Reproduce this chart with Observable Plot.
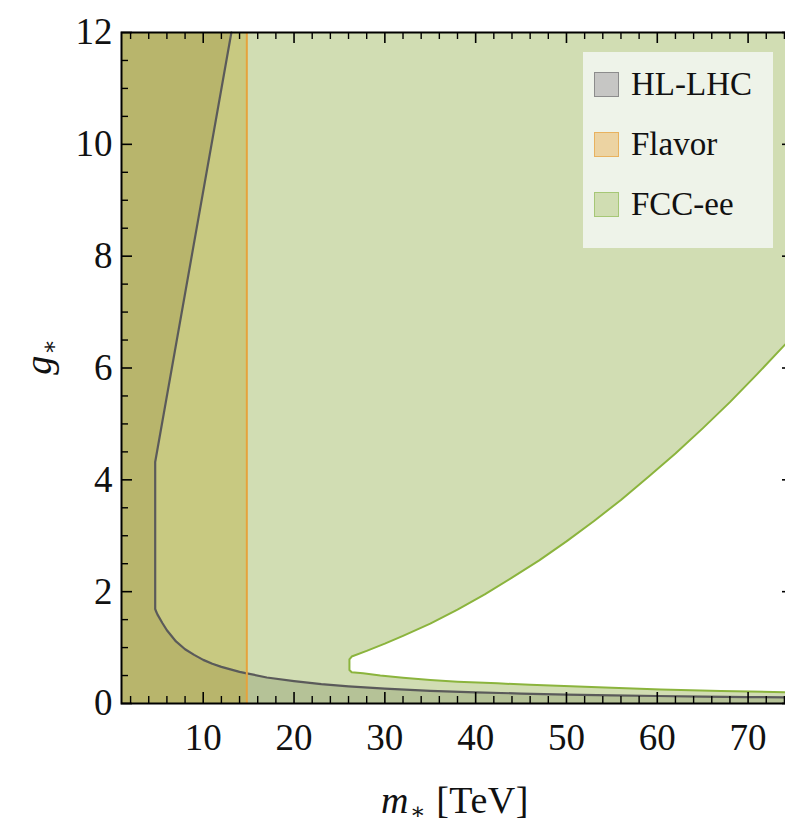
<!DOCTYPE html>
<html><head><meta charset="utf-8">
<script src="https://cdn.jsdelivr.net/npm/d3@7"></script>
<script src="https://cdn.jsdelivr.net/npm/@observablehq/plot@0.6"></script>
<style>
html,body{margin:0;padding:0;background:#fff;overflow:hidden;}
#wrap{position:relative;width:785px;height:828px;overflow:hidden;font-family:"Liberation Serif","DejaVu Serif",serif;color:#111;}
#chart{position:absolute;left:0;top:0;width:793px;}
#chart svg{max-width:none !important;}
#xlab{position:absolute;left:455px;top:781px;transform:translateX(-50%);font-size:38px;line-height:1;white-space:nowrap;letter-spacing:0.5px;}
#ylab{position:absolute;left:38px;top:357px;transform:translate(-50%,-50%) rotate(-90deg);font-size:38px;line-height:1;white-space:nowrap;}
.sub{font-size:23px;position:relative;top:6px;margin-left:1px;}
#legend{position:absolute;left:583px;top:52px;width:190px;height:196px;background:#eef3e9;}
.item{position:absolute;left:11px;height:25px;display:flex;align-items:center;font-size:33px;white-space:nowrap;}
.sw{width:23px;height:23px;border:1px solid;margin-right:12px;flex:none;}
</style></head><body>
<div id="wrap">
  <div id="chart"></div>
  <div id="ylab"><i>g</i><span class="sub">∗</span></div>
  <div id="xlab"><i>m</i><span class="sub">∗</span> [TeV]</div>
  <div id="legend"></div>
</div>
<script>
// ---- data ----
const xDomain = [1, 75];
const yDomain = [0, 12];
const xTickLabels = [10, 20, 30, 40, 50, 60, 70];
const yTickLabels = [0, 2, 4, 6, 8, 10, 12];
const xMinorTicks = d3.range(2, 75, 2).filter(v => v % 10 !== 0);
const yMinorTicks = d3.range(0.5, 12, 0.5).filter(v => v % 2 !== 0);

// flavor bound on m* (TeV)
const flavorBound = 14.8;

// HL-LHC exclusion boundary [m*, g*]
const hlBoundary = [
  [13.1, 12], [4.71, 4.32], [4.71, 1.69], [4.85, 1.63], [5, 1.58], [5.5, 1.44], [6, 1.31],
  [7, 1.11], [8, 0.97], [9, 0.87], [10, 0.78], [11, 0.71], [12, 0.655], [13, 0.61],
  [14, 0.565], [14.8, 0.54], [17, 0.465], [20, 0.4], [23, 0.345], [26, 0.305],
  [30, 0.265], [35, 0.227], [40, 0.2], [45, 0.178], [50, 0.16], [55, 0.146],
  [60, 0.134], [65, 0.124], [70, 0.115], [75, 0.108]
];

// FCC-ee allowed wedge: upper and lower boundaries [m*, g*]
const fccUpper = [
  [26.35, 0.84], [28, 0.94], [30, 1.07], [32, 1.21], [35, 1.43], [38, 1.68],
  [41, 1.95], [44, 2.25], [47, 2.56], [50, 2.9], [53, 3.26], [56, 3.64],
  [59, 4.05], [62, 4.47], [65, 4.92], [68, 5.39], [71, 5.89], [75, 6.58]
];
const fccLower = [
  [26.35, 0.56], [27.6, 0.54], [29.5, 0.5], [32, 0.46], [35, 0.42], [38, 0.39],
  [42.4, 0.36], [46, 0.335], [50.5, 0.31], [55, 0.28], [60.4, 0.25], [67, 0.222],
  [75, 0.2]
];
const fccTipM = 26.1;

// series / legend
const seriesNames = ["HL-LHC", "Flavor", "FCC-ee"];
const seriesSwatch = ["#c6c6c4", "#ecd3a2", "#d0ddb2"];
const seriesSwatchBorder = ["#8c8c8c", "#e8b25f", "#a6c776"];

// region colours (as composited in the reference)
const fccFill = "#d1ddb3";
const flavorFccFill = "#c8c981";
const hlFccFill = "#b5c297";
const hlFlavorFccFill = "#b8b56c";
const hlLine = "#5a5a5a";
const fccLine = "#8bb43d";
const flavorLine = "#e6a23c";

// ---- derived polygons ----
const wedge = [[fccTipM, 0.79], ...fccUpper, ...fccLower.slice().reverse(), [fccTipM, 0.6], [fccTipM, 0.79]];
const hlLeft = [[xDomain[0], 0], [xDomain[0], yDomain[1]], ...hlBoundary.filter(p => p[0] <= flavorBound), [flavorBound, 0]];
const hlRight = [[flavorBound, 0], ...hlBoundary.filter(p => p[0] >= flavorBound), [xDomain[1], 0]];
const flavorRegion = [{m1: xDomain[0], m2: flavorBound, g1: yDomain[0], g2: yDomain[1]}];

const px = d => d[0], py = d => d[1];

const chart = Plot.plot({
  width: 793, height: 828,
  marginLeft: 121, marginRight: 0, marginTop: 32, marginBottom: 125,
  x: {domain: xDomain},
  y: {domain: yDomain},
  style: {fontFamily: "'Liberation Serif', 'DejaVu Serif', serif", fontSize: "37px", color: "#111", background: "white"},
  marks: [
    Plot.frame({fill: fccFill, stroke: null}),
    Plot.line(wedge, {x: px, y: py, fill: "white", stroke: "none"}),
    Plot.rect(flavorRegion, {x1: "m1", x2: "m2", y1: "g1", y2: "g2", fill: flavorFccFill}),
    Plot.line(hlRight, {x: px, y: py, fill: hlFccFill, stroke: "none"}),
    Plot.line(hlLeft, {x: px, y: py, fill: hlFlavorFccFill, stroke: "none"}),
    Plot.line(wedge, {x: px, y: py, stroke: fccLine, strokeWidth: 2, fill: "none", strokeLinejoin: "round"}),
    Plot.line(hlBoundary, {x: px, y: py, stroke: hlLine, strokeWidth: 2.2, strokeLinejoin: "round"}),
    Plot.ruleX([flavorBound], {stroke: flavorLine, strokeWidth: 2}),
    // ticks (inward), bottom / top / left / right
    Plot.ruleX(xTickLabels, {insetTop: 660, stroke: "#000", strokeWidth: 1.6}),
    Plot.ruleX(xMinorTicks, {insetTop: 664, stroke: "#000", strokeWidth: 1.4}),
    Plot.ruleX(xTickLabels, {insetBottom: 660, stroke: "#000", strokeWidth: 1.6}),
    Plot.ruleX(xMinorTicks, {insetBottom: 664, stroke: "#000", strokeWidth: 1.4}),
    Plot.ruleY(yTickLabels, {insetRight: 661, stroke: "#000", strokeWidth: 1.6}),
    Plot.ruleY(yMinorTicks, {insetRight: 665, stroke: "#000", strokeWidth: 1.4}),
    Plot.ruleY(yTickLabels, {insetLeft: 661, stroke: "#000", strokeWidth: 1.6}),
    Plot.ruleY(yMinorTicks, {insetLeft: 665, stroke: "#000", strokeWidth: 1.4}),
    Plot.axisX(xTickLabels, {tickSize: 0, tickPadding: 20, label: null, tickFormat: d => String(d)}),
    Plot.axisY(yTickLabels, {tickSize: 0, tickPadding: 9, label: null, tickFormat: d => String(d)}),
    Plot.frame({stroke: "#000", strokeWidth: 2})
  ]
});
chart.style.maxWidth = "none";
document.getElementById("chart").appendChild(chart);

// legend
const legend = document.getElementById("legend");
seriesNames.forEach((name, i) => {
  const it = document.createElement("div");
  it.className = "item";
  it.style.top = (20 + i * 60) + "px";
  const sw = document.createElement("div");
  sw.className = "sw";
  sw.style.background = seriesSwatch[i];
  sw.style.borderColor = seriesSwatchBorder[i];
  it.appendChild(sw);
  it.appendChild(document.createTextNode(name));
  legend.appendChild(it);
});
</script>
</body></html>
